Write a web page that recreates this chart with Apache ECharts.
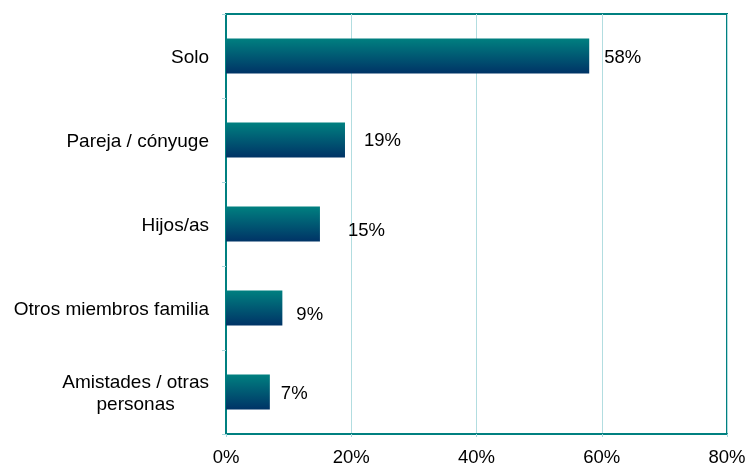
<!DOCTYPE html>
<html>
<head>
<meta charset="utf-8">
<script src="https://cdn.jsdelivr.net/npm/echarts@6/dist/echarts.min.js"></script>
<style>
  html, body { margin: 0; padding: 0; background: #fff; }
  #chart { width: 749px; height: 465px; }
</style>
</head>
<body>
<div id="chart"></div>
<script>
// categories, top to bottom
var categories = ['Solo', 'Pareja / cónyuge', 'Hijos/as', 'Otros miembros familia', 'Amistades / otras\npersonas'];
var values = [58, 19, 15, 9, 7];
var xTicks = [0, 20, 40, 60, 80];

// small nudges of the value labels, as in the original chart
var labelShift = [[0, 2], [4, 1], [13, 7], [-1, 7], [-4, 2]];

var chart = echarts.init(document.getElementById('chart'));
var option = {
  animation: false,
  grid: {
    left: 226, right: 22, top: 14, bottom: 31,
    outerBoundsMode: 'none',
    show: true,
    borderColor: '#008080',
    borderWidth: 2
  },
  xAxis: {
    type: 'value',
    min: xTicks[0],
    max: xTicks[xTicks.length - 1],
    interval: 20,
    axisLine: { show: true, lineStyle: { color: '#008080', width: 2 } },
    axisTick: { show: true, length: 3, lineStyle: { color: '#a8d8dc' } },
    splitLine: { show: true, lineStyle: { color: '#b2dde0', width: 1 } },
    axisLabel: {
      formatter: '{value}%',
      color: '#000',
      fontFamily: 'Liberation Sans, Arial',
      fontSize: 18.5,
      margin: 14
    }
  },
  yAxis: {
    type: 'category',
    inverse: true,
    data: categories,
    axisLine: { show: true, lineStyle: { color: '#008080', width: 2 } },
    axisTick: { show: true, length: 4, lineStyle: { color: '#a8d8dc' } },
    axisLabel: {
      margin: 17,
      padding: [4, 0, 0, 0],
      formatter: function (v) {
        return v.split('\n').map(function (s) { return '{c|' + s + '}'; }).join('\n');
      },
      rich: {
        c: {
          align: 'center',
          color: '#000',
          fontFamily: 'Liberation Sans, Arial',
          fontSize: 19,
          lineHeight: 22
        }
      }
    }
  },
  series: [{
    type: 'bar',
    data: values.map(function (v, i) {
      return { value: v, label: { offset: labelShift[i] } };
    }),
    barWidth: 35,
    itemStyle: {
      color: new echarts.graphic.LinearGradient(0, 0, 0, 1, [
        { offset: 0, color: '#008080' },
        { offset: 1, color: '#003366' }
      ])
    },
    label: {
      show: true,
      position: 'right',
      distance: 15,
      formatter: '{c}%',
      color: '#000',
      fontFamily: 'Liberation Sans, Arial',
      fontSize: 18.5
    }
  }]
};
chart.setOption(option);
</script>
</body>
</html>
